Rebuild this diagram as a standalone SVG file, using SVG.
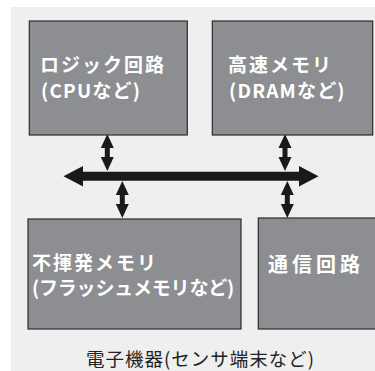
<svg xmlns="http://www.w3.org/2000/svg" width="375" height="371" viewBox="0 0 375 371">
<style>
.box{fill:#8d8e91;stroke:#2b2b2b;stroke-width:1.2}
.lbl{fill:#ffffff;font-family:"Noto Sans CJK JP","Noto Sans",sans-serif;font-weight:bold;font-size:19px;letter-spacing:2px}
.l2{letter-spacing:1.2px}
.cap{fill:#222222;font-family:"Noto Sans CJK JP","Noto Sans",sans-serif;font-size:18.5px;letter-spacing:1px}
.arr{fill:#1a1a1a}
</style>
<rect x="0" y="0" width="375" height="371" fill="#ffffff"/>
<rect x="11" y="7" width="364" height="364" fill="#eeefee"/>
<g id="connectors">
<polygon class="arr" points="63.5,176.2 83,166 83,171.7 299,171.7 299,166 318.5,176.2 299,186.4 299,180.7 83,180.7 83,186.4"/>
<polygon class="arr" points="107.3,134 113.8,148 109.8,148 109.8,157 113.8,157 107.3,171 100.8,157 104.8,157 104.8,148 100.8,148"/>
<polygon class="arr" points="122.3,181 128.8,195 124.8,195 124.8,204 128.8,204 122.3,218 115.8,204 119.8,204 119.8,195 115.8,195"/>
<polygon class="arr" points="285,134 291.5,148 287.5,148 287.5,157 291.5,157 285,171 278.5,157 282.5,157 282.5,148 278.5,148"/>
<polygon class="arr" points="287.3,181 293.8,195 289.8,195 289.8,204 293.8,204 287.3,218 280.8,204 284.8,204 284.8,195 280.8,195"/>
</g>
<g id="logic">
<rect class="box" x="29.3" y="21" width="158" height="114"/>
<text class="lbl" x="40" y="72">ロジック回路</text>
<text class="lbl l2" x="41" y="98">(CPUなど)</text>
</g>
<g id="dram">
<rect class="box" x="212.3" y="21" width="160.4" height="114"/>
<text class="lbl" x="228" y="72">高速メモリ</text>
<text class="lbl l2" x="229" y="98">(DRAMなど)</text>
</g>
<g id="flash">
<rect class="box" x="28" y="219" width="213" height="110"/>
<text class="lbl" x="32" y="270">不揮発メモリ</text>
<text class="lbl" x="32" y="295" style="letter-spacing:-0.2px">(フラッシュメモリなど)</text>
</g>
<g id="comm">
<rect class="box" x="258.3" y="218" width="130" height="111"/>
<text class="lbl" x="268" y="272" style="font-size:20px;letter-spacing:4px">通信回路</text>
</g>
<g id="caption">
<text class="cap" x="86" y="366">電子機器(センサ端末など)</text>
</g>
</svg>
